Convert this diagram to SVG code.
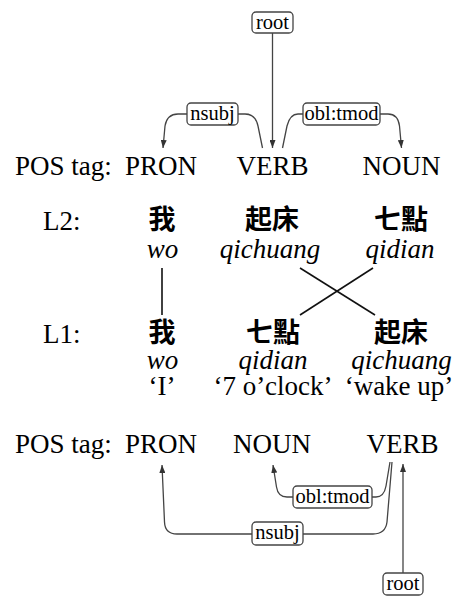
<svg xmlns="http://www.w3.org/2000/svg" width="459" height="598" viewBox="0 0 459 598">
<defs>
<marker id="ah" viewBox="0 0 8 6" refX="8" refY="3" markerWidth="8" markerHeight="6" markerUnits="userSpaceOnUse" orient="auto">
<path d="M0,0 L8,3 L0,6 Z" fill="#333"/>
</marker>
<style>
.t{font-family:"Liberation Serif","Times New Roman",serif;font-size:27px;fill:#000}
.i{font-family:"Liberation Serif","Times New Roman",serif;font-size:27px;font-style:italic;fill:#000}
.c{font-family:"Noto Sans CJK TC","Noto Sans CJK SC",sans-serif;font-size:27px;font-weight:bold;fill:#000}
.lb{font-family:"Liberation Serif","Times New Roman",serif;font-size:20.5px;fill:#000;text-anchor:middle}
.box{fill:#fff;stroke:#444;stroke-width:1.3}
.arc{fill:none;stroke:#444;stroke-width:1.3}
.al{fill:none;stroke:#111;stroke-width:1.6}
.m{text-anchor:middle}
</style>
</defs>
<g id="connectors">
<path class="arc" d="M272.5,33 L272.5,148" marker-end="url(#ah)"/>
<path class="arc" d="M262.5,148 L258,126 Q255.5,114 245,114 L238,114"/>
<path class="arc" d="M187,114 L178,114 Q167,114 165,126 L163,148" marker-end="url(#ah)"/>
<path class="arc" d="M282.5,148 L287,126 Q290,114 298,114 L303,114"/>
<path class="arc" d="M380,114 L388,114 Q398,114 399.5,126 L401.5,148" marker-end="url(#ah)"/>
<path class="arc" d="M392,462 L387,522 Q385.5,534 373,534 L303,534"/>
<path class="arc" d="M252,534 L177,534 Q165,534 164.5,522 L162,465" marker-end="url(#ah)"/>
<path class="arc" d="M390,462 L386,486 Q384,497 376,497 L372,497"/>
<path class="arc" d="M293,497 L287,497 Q278,497 276.5,487 L273,465" marker-end="url(#ah)"/>
<path class="arc" d="M403,573 L403,464" marker-end="url(#ah)"/>
<line class="al" x1="162" y1="268" x2="162" y2="315"/>
<line class="al" x1="300" y1="268" x2="375" y2="315"/>
<line class="al" x1="373" y1="268" x2="300" y2="315"/>
</g>
<g id="label-root-top"><rect class="box" x="252" y="12" width="41" height="21" rx="4"/><text class="lb" x="272.5" y="28.5">root</text></g>
<g id="label-nsubj-top"><rect class="box" x="187" y="103" width="51" height="22" rx="4"/><text class="lb" x="212.5" y="119.5">nsubj</text></g>
<g id="label-obltmod-top"><rect class="box" x="303" y="103" width="77" height="22" rx="4"/><text class="lb" x="341.5" y="119.5">obl:tmod</text></g>
<g id="row-pos-top">
<text class="t" x="15" y="175">POS tag:</text>
<text class="t m" x="161" y="175">PRON</text>
<text class="t m" x="272.5" y="175">VERB</text>
<text class="t m" x="401.5" y="175">NOUN</text>
</g>
<g id="row-l2">
<text class="t" x="43" y="230">L2:</text>
<text class="c m" x="162" y="229">我</text>
<text class="c m" x="272" y="229">起床</text>
<text class="c m" x="401" y="229">七點</text>
<text class="i m" x="162.5" y="258">wo</text>
<text class="i m" x="270" y="258">qichuang</text>
<text class="i m" x="400" y="258">qidian</text>
</g>
<g id="row-l1">
<text class="t" x="43" y="343">L1:</text>
<text class="c m" x="162" y="342">我</text>
<text class="c m" x="273" y="342">七點</text>
<text class="c m" x="401" y="342">起床</text>
<text class="i m" x="162.5" y="369">wo</text>
<text class="i m" x="273" y="369">qidian</text>
<text class="i m" x="401.5" y="369">qichuang</text>
<text class="t m" x="162" y="395">‘I’</text>
<text class="t m" x="273" y="395">‘7 o’clock’</text>
<text class="t m" x="399" y="395">‘wake up’</text>
</g>
<g id="row-pos-bottom">
<text class="t" x="15" y="453">POS tag:</text>
<text class="t m" x="161" y="453">PRON</text>
<text class="t m" x="272" y="453">NOUN</text>
<text class="t m" x="402.5" y="453">VERB</text>
</g>
<g id="label-obltmod-bottom"><rect class="box" x="293" y="486" width="79" height="22" rx="4"/><text class="lb" x="332.5" y="502.5">obl:tmod</text></g>
<g id="label-nsubj-bottom"><rect class="box" x="252" y="522" width="51" height="23" rx="4"/><text class="lb" x="277.5" y="539">nsubj</text></g>
<g id="label-root-bottom"><rect class="box" x="383" y="573" width="40" height="22" rx="4"/><text class="lb" x="403" y="589.5">root</text></g>
</svg>
